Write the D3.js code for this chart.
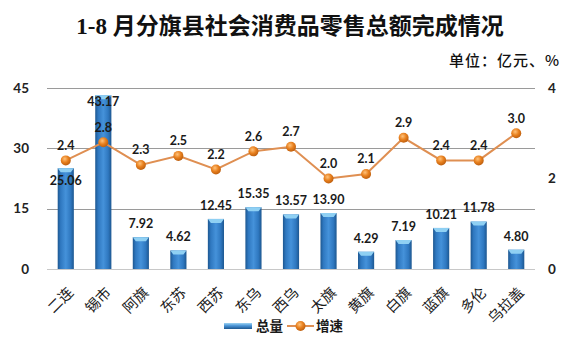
<!DOCTYPE html>
<html><head><meta charset="utf-8">
<script src="https://cdn.jsdelivr.net/npm/d3@7"></script>
<style>
body{margin:0;background:#fff;}
svg{display:block;}
</style></head>
<body>
<svg id="c" width="575" height="345"></svg>
<script>
const categories = ["二连","锡市","阿旗","东苏","西苏","东乌","西乌","太旗","黄旗","白旗","蓝旗","多伦","乌拉盖"];
const totals = [25.06,43.17,7.92,4.62,12.45,15.35,13.57,13.90,4.29,7.19,10.21,11.78,4.80];
const growth = [2.4,2.8,2.3,2.5,2.2,2.6,2.7,2.0,2.1,2.9,2.4,2.4,3.0];
const leftTicks = [0,15,30,45];
const rightTicks = [0,2,4];
const title = "1-8 月分旗县社会消费品零售总额完成情况";
const unitText = "单位：亿元、%";
const seriesNames = ["总量","增速"];

const svg = d3.select("#c");
const L = 47, R = 535, T = 88, B = 269;
const x = d3.scaleBand().domain(categories).range([L,R]).padding(0);
const y = d3.scaleLinear().domain([0,45]).range([B,T]);
const y2 = d3.scaleLinear().domain([0,4]).range([B,T]);
const bw = x.bandwidth()*0.43;
const numFont = "Lato, 'DejaVu Sans', sans-serif";

const defs = svg.append("defs");
const g1 = defs.append("linearGradient").attr("id","barg").attr("x1","0").attr("x2","1").attr("y1","0").attr("y2","0");
[["0%","#1d5790"],["18%","#2f78c0"],["50%","#4592da"],["80%","#2f78c0"],["100%","#1d5790"]].forEach(s=>g1.append("stop").attr("offset",s[0]).attr("stop-color",s[1]));
const g2 = defs.append("radialGradient").attr("id","dotg").attr("cx","0.4").attr("cy","0.35").attr("r","0.7");
[["0%","#ffc27a"],["50%","#e8801e"],["100%","#b85a0c"]].forEach(s=>g2.append("stop").attr("offset",s[0]).attr("stop-color",s[1]));
const g3 = defs.append("linearGradient").attr("id","legg").attr("x1","0").attr("x2","0").attr("y1","0").attr("y2","1");
[["0%","#9fd4f2"],["45%","#4a94d6"],["100%","#1d5790"]].forEach(s=>g3.append("stop").attr("offset",s[0]).attr("stop-color",s[1]));

// title
svg.append("text").attr("x",290).attr("y",34).attr("text-anchor","middle")
  .attr("font-family","'Liberation Serif','Noto Sans CJK SC',serif").attr("font-weight","bold")
  .attr("font-size",23).attr("fill","#111").text(title);
svg.append("text").attr("x",560).attr("y",66).attr("text-anchor","end")
  .attr("font-family","'Noto Sans CJK SC',sans-serif").attr("font-weight","500")
  .attr("font-size",15).attr("letter-spacing",1).attr("fill","#111").text(unitText);

// gridlines
svg.append("g").selectAll("line").data(leftTicks.filter(d=>d>0)).join("line")
  .attr("x1",L).attr("x2",R).attr("y1",d=>Math.round(y(d))+0.5).attr("y2",d=>Math.round(y(d))+0.5)
  .attr("stroke","#9a9a9a").attr("stroke-width",1);
svg.append("line").attr("x1",L).attr("x2",R).attr("y1",B+0.5).attr("y2",B+0.5).attr("stroke","#c8c8c8");

// axes
const la = svg.append("g").attr("transform",`translate(${L},0)`).call(d3.axisLeft(y).tickValues(leftTicks).tickSize(0).tickPadding(18));
la.select(".domain").remove();
la.selectAll("text").attr("font-family",numFont).attr("font-weight","bold").attr("font-size",13.5).attr("fill","#222");
const ra = svg.append("g").attr("transform",`translate(${R},0)`).call(d3.axisRight(y2).tickValues(rightTicks).tickSize(0).tickPadding(13).tickFormat(d3.format("d")));
ra.select(".domain").remove();
ra.selectAll("text").attr("font-family",numFont).attr("font-weight","bold").attr("font-size",13.5).attr("fill","#222");

// bars
const cx = c => x(c)+x.bandwidth()/2;
const bars = svg.append("g").selectAll("g").data(categories).join("g");
bars.append("rect").attr("x",c=>cx(c)-bw/2).attr("width",bw)
  .attr("y",(c,i)=>y(totals[i])).attr("height",(c,i)=>B-y(totals[i])).attr("fill","url(#barg)");
bars.append("path").attr("d",(c,i)=>{const t=y(totals[i]),a=cx(c)-bw/2,b=cx(c)+bw/2;
  return `M${a},${t}L${b},${t}L${b-3},${t+4}L${a+3},${t+4}Z`;}).attr("fill","#8fd0f3");

// bar labels
const insideIdx = [0];
svg.append("g").selectAll("text").data(categories).join("text")
  .attr("x",cx).attr("y",(c,i)=>{const t=y(totals[i]); let cy = insideIdx.includes(i)? t+12 : t-13.5; if(cy<T+14) cy=T+14; return cy;})
  .attr("dy","0.35em").attr("text-anchor","middle")
  .attr("font-family",numFont).attr("font-weight","bold").attr("font-size",12.5).attr("fill","#1a1a1a")
  .text((c,i)=>totals[i].toFixed(2));

// line
const line = d3.line().x((d,i)=>cx(categories[i])).y(d=>y2(d));
svg.append("path").datum(growth).attr("d",line).attr("fill","none").attr("stroke","#df8f52").attr("stroke-width",2);
svg.append("g").selectAll("circle").data(growth).join("circle")
  .attr("cx",(d,i)=>cx(categories[i])).attr("cy",d=>y2(d)).attr("r",5).attr("fill","url(#dotg)");
svg.append("g").selectAll("text").data(growth).join("text")
  .attr("x",(d,i)=>cx(categories[i])).attr("y",d=>y2(d)-15).attr("dy","0.35em").attr("text-anchor","middle")
  .attr("font-family",numFont).attr("font-weight","bold").attr("font-size",12.5).attr("fill","#1a1a1a")
  .text(d=>d.toFixed(1));

// category labels
svg.append("g").selectAll("text").data(categories).join("text")
  .attr("transform",c=>`translate(${cx(c)+5},${B+21}) rotate(-45)`)
  .attr("text-anchor","end").attr("dy","0.35em")
  .attr("font-family","'Noto Sans CJK SC',sans-serif").attr("font-size",14.5).attr("fill","#1a1a1a")
  .text(c=>c);

// legend
const lg = svg.append("g");
lg.append("rect").attr("x",224).attr("y",323).attr("width",28).attr("height",6).attr("fill","url(#legg)");
lg.append("text").attr("x",256).attr("y",326).attr("dy","0.35em").attr("font-family","'Noto Sans CJK SC',sans-serif")
  .attr("font-weight","bold").attr("font-size",13.5).attr("fill","#1a1a1a").text(seriesNames[0]);
lg.append("line").attr("x1",287).attr("x2",314).attr("y1",326).attr("y2",326).attr("stroke","#df8f52").attr("stroke-width",2);
lg.append("circle").attr("cx",300.5).attr("cy",326).attr("r",5).attr("fill","url(#dotg)");
lg.append("text").attr("x",316).attr("y",326).attr("dy","0.35em").attr("font-family","'Noto Sans CJK SC',sans-serif")
  .attr("font-weight","bold").attr("font-size",13.5).attr("fill","#1a1a1a").text(seriesNames[1]);
</script>
</body></html>
